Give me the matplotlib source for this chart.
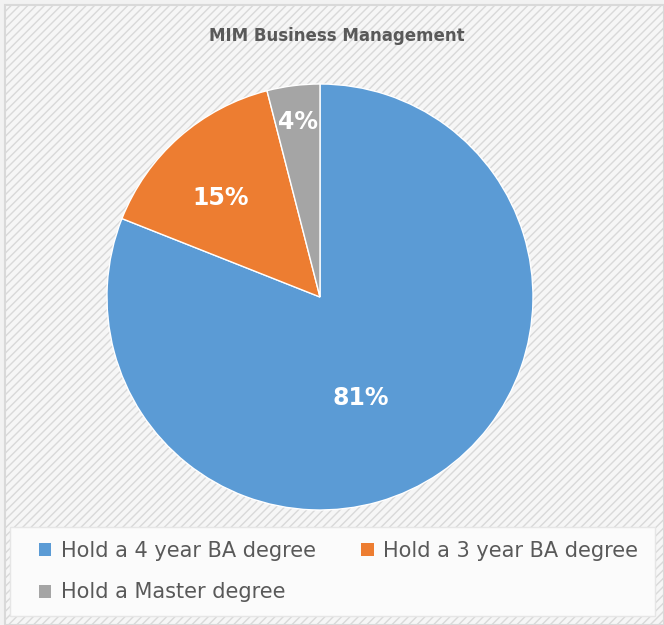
import numpy as np
import matplotlib.pyplot as plt
import matplotlib.patches as patches

labels = ["Hold a 4 year BA degree", "Hold a 3 year BA degree", "Hold a Master degree"]
shares = [81, 15, 4]
colors = ["#5B9BD5", "#ED7D31", "#A5A5A5"]
label_dist = [0.51, 0.66, 0.83]
label_shift = [-12, 3.6, 0]   # degrees, label nudges as placed in the source

plt.rcParams['hatch.color'] = "#EDEDED"
fig = plt.figure(figsize=(6.64, 6.25), dpi=100)
fig.patch.set_facecolor("#F2F2F2")
# light diagonal texture + frame
fig.patches.append(patches.Rectangle((0.008, 0.0), 0.992, 0.992, transform=fig.transFigure,
                                     facecolor="#F6F6F6", edgecolor="#D9D9D9", hatch="////",
                                     linewidth=1.5, zorder=-2))
# legend area background
fig.patches.append(patches.Rectangle((0.015, 0.015), 0.972, 0.142, transform=fig.transFigure,
                                     facecolor="#FBFBFB", edgecolor="#E6E6E6", linewidth=1, zorder=-1))

ax = fig.add_axes([0.1611, 0.184, 0.6416, 0.6816])
wedges, _ = ax.pie(shares, colors=colors, startangle=90, counterclock=False,
                   wedgeprops=dict(edgecolor="white", linewidth=1))
ax.set_xlim(-1, 1)
ax.set_ylim(-1, 1)
ax.set_aspect("equal")

for w, s, d, sh in zip(wedges, shares, label_dist, label_shift):
    ang = np.deg2rad((w.theta1 + w.theta2) / 2 + sh)
    ax.text(d * np.cos(ang), d * np.sin(ang), f"{s}%", color="white", fontsize=17,
            fontweight="bold", ha="center", va="center")

fig.text(0.508, 0.943, "MIM Business Management", ha="center", va="center",
         fontsize=12, fontweight="bold", color="#595959")

order = [0, 2, 1]
handles = [patches.Patch(facecolor=colors[i]) for i in order]
leg = fig.legend(handles, [labels[i] for i in order], ncol=2, loc="upper left",
                 bbox_to_anchor=(0.030, 0.165), frameon=False, fontsize=15,
                 labelcolor="#595959", handlelength=0.6, handleheight=0.6,
                 handletextpad=0.45, columnspacing=2.2, labelspacing=1.05)

plt.savefig("out.png", dpi=100, facecolor=fig.get_facecolor())
